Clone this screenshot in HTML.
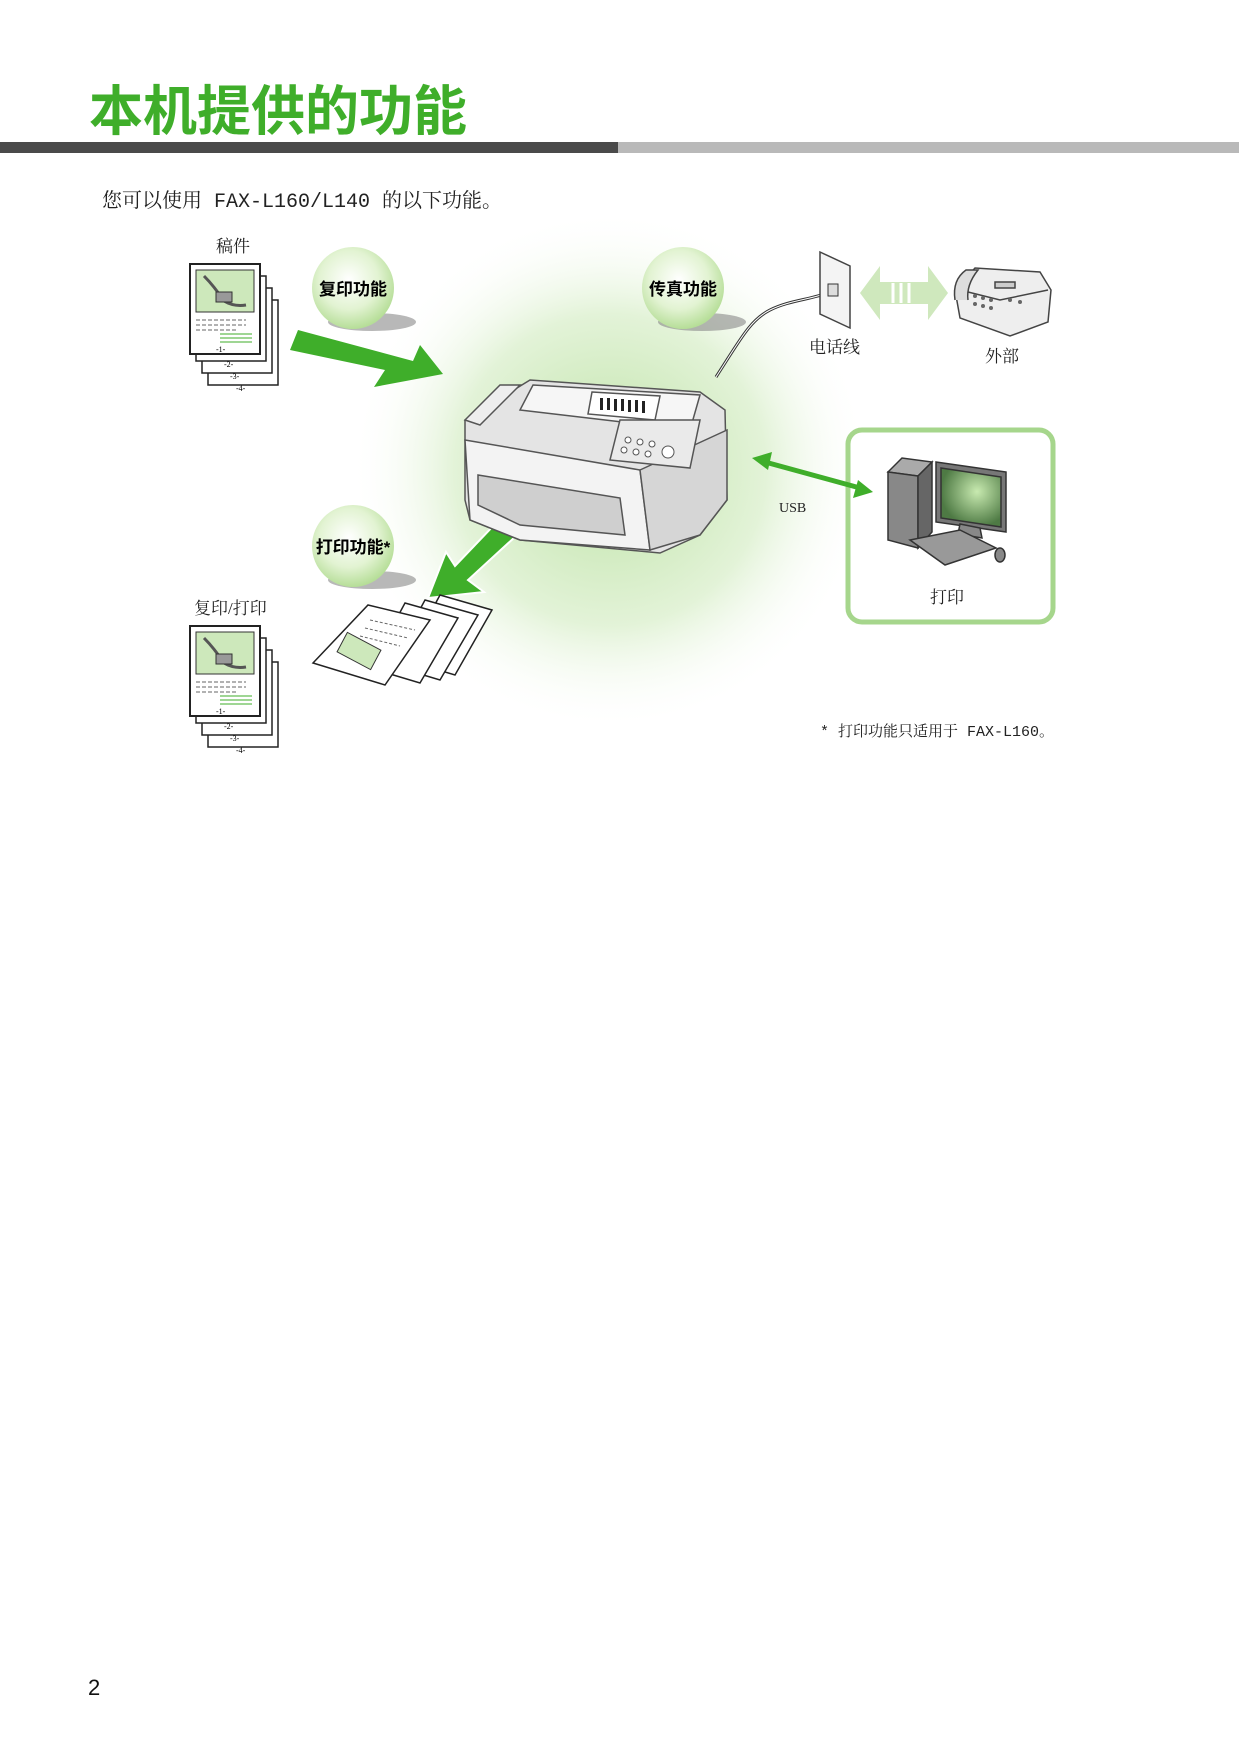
<!DOCTYPE html>
<html><head><meta charset="utf-8"><style>
html,body{margin:0;padding:0;background:#fff}
body{width:1241px;height:1754px;position:relative;overflow:hidden;font-family:"Liberation Serif","Noto Serif CJK SC",serif}
.t{position:absolute;white-space:nowrap}
</style></head><body>
<div class="t" style="left:89px;top:77px;font-size:54px;line-height:70px;color:#3fae2a;font-family:'Liberation Sans','Noto Sans CJK SC',sans-serif;font-weight:bold">本机提供的功能</div>
<div style="position:absolute;left:0;top:142px;width:618px;height:11px;background:#4a4a4a"></div>
<div style="position:absolute;left:618px;top:142px;width:621px;height:11px;background:#b9b9b9"></div>
<div class="t" style="left:102px;top:184px;font-size:20px;color:#222;font-family:'Liberation Mono','Noto Serif CJK SC',monospace">您可以使用 FAX-L160/L140 的以下功能。</div>
<svg style="position:absolute;left:0;top:0" width="1241" height="1754" viewBox="0 0 1241 1754" font-family="Liberation Serif, Noto Serif CJK SC, serif">
<defs>
<radialGradient id="glow" cx="0.5" cy="0.5" r="0.5"><stop offset="0" stop-color="#bfe3a8"/><stop offset="0.6" stop-color="#e3f3d8"/><stop offset="1" stop-color="#fff" stop-opacity="0"/></radialGradient>
<radialGradient id="ball" cx="0.45" cy="0.4" r="0.6"><stop offset="0" stop-color="#fff"/><stop offset="0.6" stop-color="#e2f3d2"/><stop offset="1" stop-color="#b6de98"/></radialGradient>
<radialGradient id="scr" cx="0.6" cy="0.4" r="0.6"><stop offset="0" stop-color="#c8eab0"/><stop offset="1" stop-color="#4e7a44"/></radialGradient>
<g id="doc">
<rect x="18" y="36" width="70" height="85" fill="#fff" stroke="#222" stroke-width="1.5"/>
<rect x="12" y="24" width="70" height="85" fill="#fff" stroke="#222" stroke-width="1.5"/>
<rect x="6" y="12" width="70" height="85" fill="#fff" stroke="#222" stroke-width="1.5"/>
<rect x="0" y="0" width="70" height="90" fill="#fff" stroke="#222" stroke-width="2"/>
<rect x="6" y="6" width="58" height="42" fill="#cde8bb" stroke="#333"/>
<path d="M14 12 q10 10 20 25 q10 6 22 4" stroke="#555" fill="none" stroke-width="3"/>
<rect x="26" y="28" width="16" height="10" fill="#999" stroke="#333"/>
<g stroke="#666" stroke-dasharray="4 2"><line x1="6" y1="56" x2="56" y2="56"/><line x1="6" y1="61" x2="56" y2="61"/><line x1="6" y1="66" x2="46" y2="66"/></g>
<g stroke="#3fae2a"><line x1="30" y1="70" x2="62" y2="70"/><line x1="30" y1="74" x2="62" y2="74"/><line x1="30" y1="78" x2="62" y2="78"/></g>
<text x="26" y="88" font-size="8">-1-</text><text x="34" y="103" font-size="8">-2-</text><text x="40" y="115" font-size="8">-3-</text><text x="46" y="127" font-size="8">-4-</text>
</g>
</defs>
<circle cx="610" cy="470" r="260" fill="url(#glow)"/>
<text x="216" y="252" font-size="17" fill="#222">稿件</text>
<use href="#doc" x="190" y="264"/>
<text x="194" y="614" font-size="17" fill="#222">复印/打印</text>
<use href="#doc" x="190" y="626"/>
<ellipse cx="372" cy="322" rx="44" ry="9" fill="#888" opacity="0.6"/>
<circle cx="353" cy="288" r="41" fill="url(#ball)"/>
<text x="353" y="295" font-size="17" font-weight="bold" text-anchor="middle" font-family="Liberation Sans, Noto Sans CJK SC, sans-serif">复印功能</text>
<ellipse cx="702" cy="322" rx="44" ry="9" fill="#888" opacity="0.6"/>
<circle cx="683" cy="288" r="41" fill="url(#ball)"/>
<text x="683" y="295" font-size="17" font-weight="bold" text-anchor="middle" font-family="Liberation Sans, Noto Sans CJK SC, sans-serif">传真功能</text>
<ellipse cx="372" cy="580" rx="44" ry="9" fill="#888" opacity="0.6"/>
<circle cx="353" cy="546" r="41" fill="url(#ball)"/>
<text x="353" y="553" font-size="17" font-weight="bold" text-anchor="middle" font-family="Liberation Sans, Noto Sans CJK SC, sans-serif">打印功能*</text>
<polygon points="298,330 413,361 420,345 443,374 374,387 385,370 290,350" fill="#3fae2a"/>
<polygon points="518,500 540,514 468,580 484,592 428,598 446,552 455,566" fill="#3fae2a" stroke="#fff" stroke-width="2"/>
<path d="M716 377 C740 340 750 320 770 310 S810 300 830 292" stroke="#333" stroke-width="3" fill="none"/>
<path d="M716 377 C740 340 750 320 770 310 S810 300 830 292" stroke="#fff" stroke-width="1" fill="none"/>
<polygon points="820,252 850,266 850,328 820,314" fill="#f4f4f4" stroke="#444" stroke-width="1.5"/>
<rect x="828" y="284" width="10" height="12" fill="#ddd" stroke="#333"/>
<polygon points="860,293 880,266 880,282 928,282 928,266 948,293 928,320 928,304 880,304 880,320" fill="#cfe8bd"/>
<g stroke="#fff" stroke-width="3"><line x1="893" y1="283" x2="893" y2="303"/><line x1="901" y1="283" x2="901" y2="303"/><line x1="909" y1="283" x2="909" y2="303"/></g>
<g stroke="#444" stroke-width="1.5">
<path d="M955 290 L975 268 L1040 272 L1051 290 L1048 322 L1010 336 L960 318 Z" fill="#eee"/>
<path d="M960 290 L1000 300 L1048 290" fill="none"/>
<path d="M955 300 Q952 280 966 270 L978 270 Q966 285 968 300" fill="#ddd"/>
<rect x="995" y="282" width="20" height="6" fill="#ccc"/>
</g>
<g fill="#666"><circle cx="975" cy="296" r="2"/><circle cx="983" cy="298" r="2"/><circle cx="991" cy="300" r="2"/><circle cx="975" cy="304" r="2"/><circle cx="983" cy="306" r="2"/><circle cx="991" cy="308" r="2"/><circle cx="1010" cy="300" r="2"/><circle cx="1020" cy="302" r="2"/></g>
<text x="809" y="353" font-size="17" fill="#222">电话线</text>
<text x="985" y="362" font-size="17" fill="#222">外部</text>
<g stroke="#555" stroke-width="1.5">
<path d="M465 420 L530 380 L700 392 L725 410 L727 500 L700 535 L660 553 L520 540 L470 520 L465 500 Z" fill="#e4e4e4"/>
<path d="M465 440 L640 470 L650 550 L520 540 L470 520 Z" fill="#f3f3f3"/>
<path d="M640 470 L727 430 L727 500 L700 535 L650 550 Z" fill="#d6d6d6"/>
<path d="M478 475 L620 498 L625 535 L520 525 L478 505 Z" fill="#cfcfcf"/>
<path d="M533 385 L700 395 L690 430 L520 410 Z" fill="#f6f6f6"/>
<path d="M465 420 L500 385 L520 385 L480 425 Z" fill="#eee"/>
<path d="M592 392 L660 396 L655 420 L588 414 Z" fill="#fff"/>
<path d="M620 420 L700 420 L690 468 L610 460 Z" fill="#eaeaea"/>
</g>
<g fill="#222"><rect x="600" y="398" width="3" height="12"/><rect x="607" y="398" width="3" height="12"/><rect x="614" y="399" width="3" height="12"/><rect x="621" y="399" width="3" height="12"/><rect x="628" y="400" width="3" height="12"/><rect x="635" y="400" width="3" height="12"/><rect x="642" y="401" width="3" height="12"/></g>
<g fill="#fff" stroke="#555"><circle cx="628" cy="440" r="3"/><circle cx="640" cy="442" r="3"/><circle cx="652" cy="444" r="3"/><circle cx="624" cy="450" r="3"/><circle cx="636" cy="452" r="3"/><circle cx="648" cy="454" r="3"/><circle cx="668" cy="452" r="6"/></g>
<rect x="848" y="430" width="205" height="192" rx="14" fill="#fff" stroke="#a6d68c" stroke-width="5"/>
<line x1="765" y1="462" x2="860" y2="488" stroke="#3fae2a" stroke-width="5"/>
<polygon points="752,458 772,452 768,470" fill="#3fae2a"/>
<polygon points="873,492 853,498 858,480" fill="#3fae2a"/>
<text x="779" y="512" font-size="14" fill="#222">USB</text>
<g stroke="#333" stroke-width="1.5">
<path d="M888 472 L902 458 L932 462 L918 476 Z" fill="#aaa"/>
<path d="M888 472 L918 476 L918 548 L888 540 Z" fill="#888"/>
<path d="M918 476 L932 462 L932 532 L918 548 Z" fill="#666"/>
<path d="M936 462 L1006 472 L1006 532 L936 522 Z" fill="#777"/>
<path d="M941 468 L1001 477 L1001 527 L941 518 Z" fill="url(#scr)"/>
<path d="M960 524 L980 528 L982 538 L958 534 Z" fill="#888"/>
<path d="M910 540 L960 530 L996 548 L945 565 Z" fill="#999"/>
<ellipse cx="1000" cy="555" rx="5" ry="7" fill="#888"/>
</g>
<text x="930" y="603" font-size="17" fill="#222">打印</text>
<g stroke="#222" stroke-width="1.5" fill="#fff">
<polygon points="440,595 492,610 455,675 405,660"/>
<polygon points="425,600 478,615 440,680 390,665"/>
<polygon points="405,603 458,618 420,683 370,668"/>
<polygon points="368,605 430,620 385,685 313,663"/>
</g>
<rect x="340" y="640" width="38" height="22" fill="#cde8bb" stroke="#333" transform="rotate(28 359 651)"/>
<g stroke="#666" stroke-dasharray="3 2"><line x1="370" y1="620" x2="415" y2="630"/><line x1="365" y1="628" x2="408" y2="638"/><line x1="360" y1="636" x2="400" y2="646"/></g>
<text x="820" y="736" font-size="15" fill="#222" font-family="Liberation Mono, Noto Serif CJK SC, monospace">* 打印功能只适用于 FAX-L160。</text>
</svg>
<div class="t" style="left:88px;top:1675px;font-size:22px;color:#111;font-family:'Liberation Sans',sans-serif">2</div>
</body></html>
